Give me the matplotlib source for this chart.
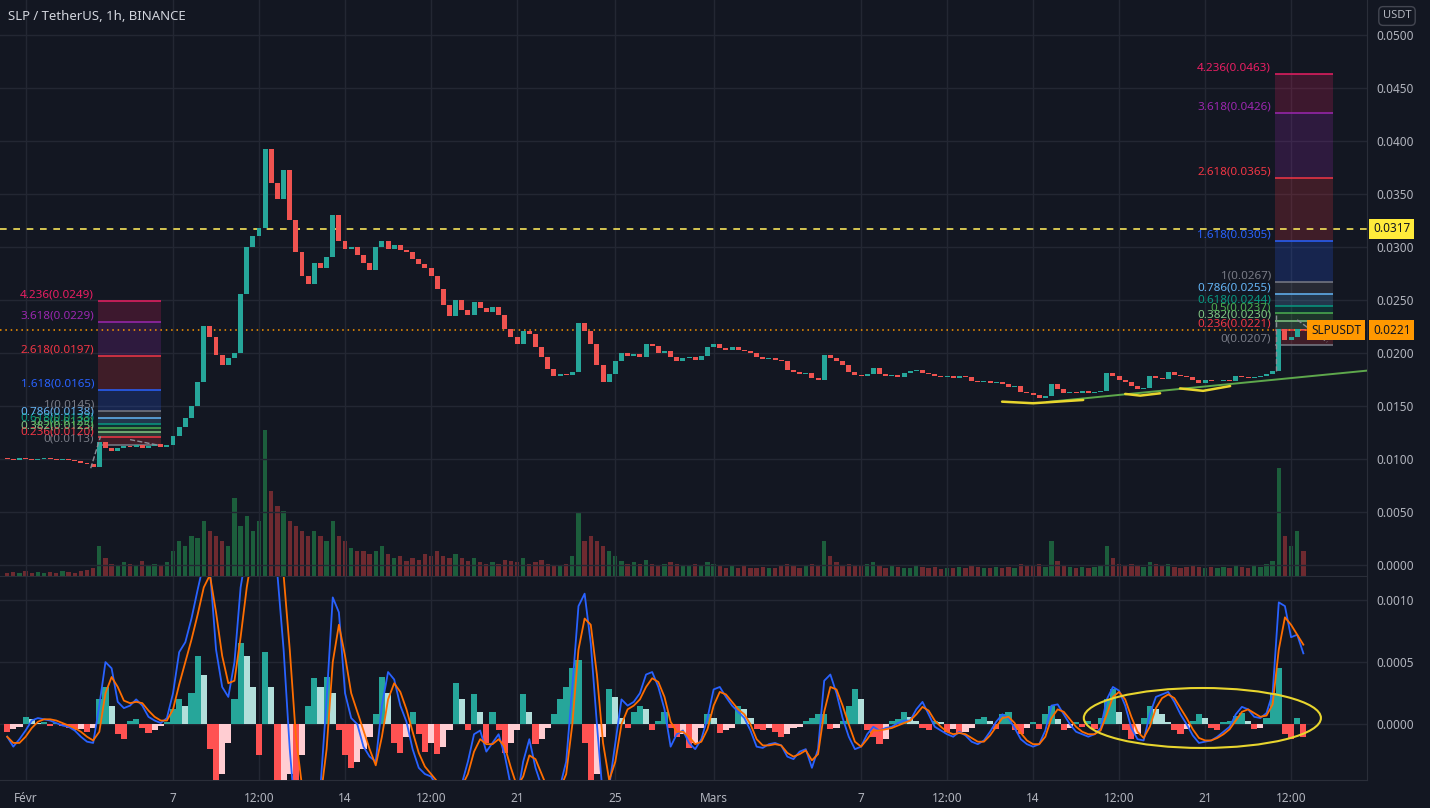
"""SLP / TetherUS 1h chart (BINANCE) with fib extensions, volume and MACD panes."""

import matplotlib

matplotlib.use("Agg")
import matplotlib.pyplot as plt
import numpy as np
from matplotlib.patches import Ellipse
from matplotlib.ticker import FormatStrFormatter

BG = "#131722"
GRID = "#232733"
AXIS_LINE = "#2a2e39"
TEXT = "#b2b5be"
UP = "#26a69a"
DOWN = "#ef5350"

# ---- data (6h buckets, x in days since Feb 1) -------------------------------
T0 = -0.75
STEP = 0.25

closes = [
    0.0100, 0.0099, 0.0101, 0.0100, 0.0099, 0.0100, 0.0101, 0.0100, 0.0099, 0.0100,
    0.0099, 0.0098, 0.0096, 0.0095, 0.0092, 0.0116, 0.0110, 0.0107, 0.0110, 0.0112,
    0.0111, 0.0113, 0.0110, 0.0112, 0.0114, 0.0111, 0.0113, 0.0121, 0.0130, 0.0138,
    0.0150, 0.0172, 0.0225, 0.0215, 0.0198, 0.0188, 0.0195, 0.0200, 0.0255, 0.0300,
    0.0310, 0.0318, 0.0392, 0.0360, 0.0345, 0.0372, 0.0325, 0.0295, 0.0272, 0.0265,
    0.0285, 0.0280, 0.0290, 0.0330, 0.0305, 0.0298, 0.0300, 0.0292, 0.0285, 0.0278,
    0.0300, 0.0305, 0.0298, 0.0302, 0.0297, 0.0295, 0.0288, 0.0284, 0.0280, 0.0272,
    0.0260, 0.0245, 0.0235, 0.0250, 0.0240, 0.0236, 0.0248, 0.0242, 0.0238, 0.0243,
    0.0236, 0.0222, 0.0215, 0.0208, 0.0220, 0.0218, 0.0205, 0.0196, 0.0185, 0.0178,
    0.0180, 0.0179, 0.0182, 0.0228, 0.0220, 0.0208, 0.0188, 0.0172, 0.0180, 0.0192,
    0.0200, 0.0197, 0.0199, 0.0196, 0.0208, 0.0206, 0.0200, 0.0202, 0.0196, 0.0192,
    0.0195, 0.0196, 0.0193, 0.0197, 0.0205, 0.0208, 0.0204, 0.0203, 0.0205, 0.0203,
    0.0202, 0.0200, 0.0196, 0.0194, 0.0195, 0.0193, 0.0192, 0.0184, 0.0182, 0.0180,
    0.0181, 0.0176, 0.0174, 0.0198, 0.0195, 0.0192, 0.0188, 0.0182, 0.0179, 0.0178,
    0.0180, 0.0186, 0.0180, 0.0178, 0.0179, 0.0177, 0.0181, 0.0183, 0.0184, 0.0181,
    0.0180, 0.0178, 0.0177, 0.0178, 0.0176, 0.0178, 0.0177, 0.0173, 0.0172, 0.0173,
    0.0171, 0.0172, 0.0170, 0.0168, 0.0169, 0.0163, 0.0162, 0.0160, 0.0157, 0.0159,
    0.0170, 0.0166, 0.0162, 0.0163, 0.0162, 0.0164, 0.0162, 0.0163, 0.0164, 0.0181,
    0.0178, 0.0174, 0.0172, 0.0169, 0.0166, 0.0167, 0.0178, 0.0176, 0.0175, 0.0182,
    0.0179, 0.0178, 0.0177, 0.0174, 0.0171, 0.0174, 0.0173, 0.0173, 0.0174, 0.0173,
    0.0178, 0.0177, 0.0176, 0.0177, 0.0178, 0.0180, 0.0183, 0.0222, 0.0212, 0.0215,
    0.0222, 0.0221,
]
first_open = 0.0101

volume = [
    3, 4, 3, 5, 3, 4, 3, 4, 3, 5,
    4, 3, 5, 6, 8, 30, 18, 12, 10, 14,
    12, 10, 15, 10, 12, 10, 14, 25, 35, 30,
    40, 38, 55, 45, 40, 35, 30, 78, 50, 60,
    45, 55, 146, 85, 70, 65, 55, 50, 45, 40,
    45, 40, 35, 55, 40, 35, 28, 25, 25, 22,
    25, 30, 22, 18, 20, 15, 18, 16, 22, 20,
    25, 20, 18, 22, 18, 15, 18, 14, 12, 14,
    12, 16, 15, 14, 18, 12, 14, 16, 12, 10,
    10, 12, 20, 63, 35, 40, 35, 30, 25, 20,
    15, 12, 14, 12, 16, 12, 10, 12, 14, 12,
    10, 10, 12, 10, 14, 12, 10, 8, 10, 8,
    10, 8, 8, 9, 8, 8, 10, 12, 10, 8,
    10, 12, 10, 35, 20, 14, 10, 12, 10, 10,
    12, 14, 10, 8, 10, 9, 8, 8, 10, 9,
    8, 9, 7, 8, 8, 9, 8, 10, 9, 8,
    8, 9, 8, 9, 8, 12, 10, 10, 12, 9,
    35, 15, 10, 9, 8, 9, 8, 9, 10, 30,
    18, 12, 10, 12, 10, 9, 14, 12, 10, 12,
    9, 8, 9, 10, 9, 8, 9, 8, 9, 8,
    10, 9, 8, 10, 9, 12, 15, 108, 40, 30,
    45, 25,
]

# MACD values in units of 1e-4
MACD_UNIT = 1e-4
macd = [
    -1.0, -1.8, -1.2, -0.5, 0.3, 0.5, 0.4, 0.3, 0.1, -0.1,
    -0.2, -0.5, -1.0, -1.4, -1.5, 1.5, 5.0, 4.5, 1.8, 1.3,
    1.5, 2.0, 1.5, 0.6, 0.3, 0.1, 0.5, 2.5, 5.8, 6.6,
    8.5, 10.8, 13.0, 12.5, 6.0, 3.0, 2.2, 5.0, 11.0, 14.0,
    16.0, 18.0, 20.0, 16.0, 12.0, 6.0, -2.0, -8.0, -10.0, -8.0,
    -6.0, -5.0, 2.0, 10.2, 9.0, 2.5, 0.5, 0.0, -1.8, -2.6,
    -3.0, 1.5, 4.2, 3.6, 1.5, 0.2, -2.0, -3.5, -4.0, -4.2,
    -5.0, -6.0, -5.5, -5.0, -4.8, -3.0, -0.8, -0.5, -2.2, -1.5,
    -0.8, -2.5, -5.0, -6.0, -3.0, -1.2, -3.5, -5.0, -6.0, -5.5,
    -5.0, -3.0, 3.0, 9.5, 10.5, 6.5, 0.0, -6.0, -5.0, -1.5,
    2.0, 1.5, 1.8, 2.5, 4.0, 4.2, 3.0, 1.2, -1.8, -0.8,
    -0.5, -1.5, -2.0, -1.2, 0.5, 2.8, 3.0, 2.2, 1.5, 1.0,
    0.5, -0.5, -1.8, -1.9, -1.6, -1.5, -1.7, -2.6, -2.8, -2.2,
    -2.0, -3.5, -2.0, 3.5, 4.0, 2.5, 0.5, -1.0, -2.0, -1.8,
    -0.8, -0.2, -0.5, -0.3, -0.2, 0.1, 0.3, 0.3, 1.2, 1.8,
    0.8, -0.2, -0.5, -0.8, -1.0, -0.6, -0.9, -1.4, -1.6, -1.3,
    -0.6, 0.2, 0.8, 0.5, -0.3, -1.2, -1.6, -1.8, -1.6, -0.5,
    1.5, 1.6, 0.8, 0.0, -0.6, -0.8, -1.0, -0.8, -0.3, 2.0,
    3.0, 2.7, 1.5, -0.3, -1.2, -1.3, 0.8, 2.2, 2.4, 2.6,
    1.8, 0.8, 0.0, -0.9, -1.5, -1.4, -1.3, -1.0, -0.6, -0.2,
    0.8, 1.4, 1.2, 0.6, 0.5, 0.9, 2.5, 9.8, 9.5, 7.0,
    7.2, 5.7,
]
signal = [
    -1.0, -1.5, -1.5, -1.0, -0.3, 0.2, 0.4, 0.4, 0.3, 0.1,
    -0.1, -0.3, -0.6, -1.0, -1.3, -0.6, 2.5, 3.8, 3.0, 1.9,
    1.7, 1.8, 1.7, 1.1, 0.6, 0.3, 0.3, 1.2, 3.2, 5.0,
    6.8, 8.8, 11.0, 12.0, 9.0, 5.5, 3.3, 3.5, 7.0, 11.0,
    14.0, 16.5, 18.5, 17.5, 16.0, 12.0, 6.0, -1.0, -5.0, -7.0,
    -7.0, -6.0, -2.0, 5.0, 8.0, 5.5, 2.5, 1.0, -0.5, -2.0,
    -3.3, -1.0, 2.0, 3.3, 2.6, 1.2, -0.6, -2.3, -3.4, -4.0,
    -4.6, -5.4, -5.5, -5.2, -5.0, -4.0, -2.2, -1.2, -1.6, -1.6,
    -1.2, -1.8, -3.5, -5.0, -4.2, -2.5, -2.8, -4.0, -5.2, -5.5,
    -5.2, -4.0, 0.0, 6.0, 8.5, 8.0, 4.0, -1.5, -4.5, -3.0,
    0.0, 1.2, 1.5, 2.0, 3.0, 3.7, 3.4, 2.2, 0.2, -0.6,
    -0.6, -1.0, -1.6, -1.4, -0.4, 1.5, 2.6, 2.4, 1.8, 1.2,
    0.8, 0.0, -1.2, -1.7, -1.7, -1.6, -1.7, -2.3, -2.6, -2.4,
    -2.1, -2.9, -2.4, 1.0, 3.0, 2.8, 1.5, 0.0, -1.4, -1.8,
    -1.2, -0.5, -0.5, -0.4, -0.3, -0.1, 0.1, 0.3, 0.8, 1.4,
    1.1, 0.3, -0.2, -0.6, -0.8, -0.7, -0.8, -1.1, -1.4, -1.4,
    -0.9, -0.2, 0.5, 0.6, 0.1, -0.7, -1.3, -1.6, -1.6, -1.0,
    0.5, 1.2, 1.0, 0.4, -0.2, -0.6, -0.8, -0.8, -0.5, 0.8,
    2.2, 2.6, 2.0, 0.6, -0.6, -1.1, -0.2, 1.3, 2.1, 2.4,
    2.1, 1.3, 0.5, -0.4, -1.1, -1.3, -1.3, -1.1, -0.8, -0.4,
    0.3, 1.0, 1.2, 0.9, 0.6, 0.7, 1.6, 6.0, 8.6, 8.0,
    7.2, 6.4,
]
hist = [
    -0.6, -0.4, -0.2, 0.6, 0.4, 0.1, 0.2, -0.1, 0.1, -0.1,
    -0.3, -0.5, -0.4, -0.6, -0.3, 2.0, 3.0, 1.5, -0.8, -1.2,
    0.3, 0.4, -0.3, -0.7, -0.5, -0.1, 0.2, 1.2, 2.0, 1.5,
    2.5, 5.5, 4.0, -2.0, -5.0, -4.0, -1.5, 2.0, 6.5, 5.5,
    3.0, -2.5, 5.8, 3.0, -6.0, -5.0, -4.0, -5.0, -2.5, 1.5,
    3.7, 3.0, 3.8, 2.5, -0.5, -2.5, -3.5, -3.0, -2.0, -1.0,
    0.8, 3.8, 2.5, -1.5, -2.3, -1.0, 1.0, -0.8, -2.2, -1.5,
    -2.4, -1.8, -0.5, 3.3, 2.0, -0.5, 2.4, 1.0, -1.5, 1.0,
    -0.5, -2.3, -1.5, -0.5, 2.4, 1.0, -1.6, -1.2, -0.3, 0.8,
    2.0, 3.0, 4.5, 5.2, -1.5, -4.5, -4.0, -1.0, 2.8, 2.2,
    0.5, -0.3, 1.0, 1.5, 1.2, -0.5, 0.3, 1.0, -0.3, -1.0,
    -0.8, -1.9, -1.5, -0.3, 0.8, 0.5, -0.7, -0.5, -0.3, 1.5,
    1.2, 0.5, -0.4, -0.5, -0.3, -0.6, -1.0, -0.8, -0.3, -0.2,
    0.3, 0.5, 0.8, 0.8, -0.4, -0.3, 0.3, 1.5, 2.8, 2.0,
    -0.5, -1.0, -1.6, -1.2, 0.3, 0.4, 1.0, 0.6, 0.3, -0.3,
    -0.5, 0.3, 0.2, -0.6, -0.4, -0.8, -0.6, -0.3, 0.4, 0.6,
    0.3, -0.4, 0.8, 1.0, -0.5, -0.8, -0.3, 0.2, -0.4, 0.8,
    1.5, 0.4, -0.5, -0.3, 0.2, -0.2, 0.3, -0.4, 0.5, 2.0,
    2.8, 1.0, -0.5, -1.2, -0.8, 0.5, 1.5, 1.2, 0.8, 0.2,
    -0.5, -0.8, -0.4, 0.3, 0.8, 0.5, -0.3, -0.5, 0.2, 0.3,
    0.7, 0.9, 0.3, -0.4, -0.3, 0.5, 2.5, 4.5, -0.8, -1.2,
    0.5, -1.0,
]

# fib extension drawings
fib_ratios = ["0", "0.236", "0.382", "0.5", "0.618", "0.786", "1", "1.618", "2.618", "3.618", "4.236"]
fib_left_prices = [0.0113, 0.0120, 0.0125, 0.0129, 0.0133, 0.0138, 0.0145, 0.0165, 0.0197, 0.0229, 0.0249]
fib_right_prices = [0.0207, 0.0221, 0.0230, 0.0237, 0.0244, 0.0255, 0.0267, 0.0305, 0.0365, 0.0426, 0.0463]
FIB_COLORS = ["#787b86", "#f23645", "#81c784", "#4caf50", "#089981", "#64b5f6",
              "#787b86", "#2962ff", "#f23645", "#9c27b0", "#e91e63"]

# horizontal levels / drawings
alert_level = 0.0317
last_price = 0.0221
trend_x = [41.57, 54.6]
trend_y = [0.01535, 0.01831]
underlines = [
    ([39.74, 41.00, 43.04], [0.01538, 0.01523, 0.01554]),
    ([44.75, 45.36, 46.17], [0.01611, 0.01595, 0.01617]),
    ([46.98, 47.92, 49.02], [0.01663, 0.01640, 0.01685]),
]

tick_days = [0, 6, 9.5, 13, 16.5, 20, 24, 28, 34, 37.5, 41, 44.5, 48, 51.5]
tick_labels = ["Févr", "7", "12:00", "14", "12:00", "21", "25", "Mars",
               "7", "12:00", "14", "12:00", "21", "12:00"]


def style_axis(ax):
    ax.set_facecolor(BG)
    for side in ("top", "left", "bottom"):
        ax.spines[side].set_visible(False)
    ax.spines["right"].set_color(AXIS_LINE)
    ax.yaxis.tick_right()
    ax.tick_params(axis="y", length=0, pad=7, labelsize=8.5, labelcolor=TEXT)
    ax.tick_params(axis="x", length=0, pad=9, labelsize=8.5, labelcolor=TEXT)
    ax.grid(True, color=GRID, lw=1)
    ax.set_axisbelow(True)


def draw_fib(ax, x0, x1, prices, label_x):
    for i, (ratio, price) in enumerate(zip(fib_ratios, prices)):
        col = FIB_COLORS[i]
        if i > 0:
            ax.fill_between([x0, x1], prices[i - 1], price, color=col, alpha=0.2, lw=0, zorder=2)
        ax.hlines(price, x0, x1, color=col, lw=1.1, zorder=3)
        ax.text(label_x, price + 0.00004, f"{ratio}({price:.4f})", ha="right", va="bottom",
                fontsize=8.4, color=col, zorder=6)


def main():
    plt.rcParams["font.family"] = ["Noto Sans", "DejaVu Sans"]

    n = len(closes)
    x = T0 + STEP * np.arange(n)
    c = np.array(closes)
    o = np.array([first_open] + closes[:-1])
    up = c >= o

    fig = plt.figure(figsize=(14.3, 8.08), dpi=100, facecolor=BG)
    price_rect = [0, 1 - 576 / 808, 1367 / 1430, 576 / 808]
    ax_vol = fig.add_axes(price_rect)
    ax = fig.add_axes(price_rect, sharex=ax_vol)
    ax_macd = fig.add_axes([0, 1 - 780 / 808, 1367 / 1430, (780 - 577) / 808], sharex=ax_vol)

    # volume (hidden scale)
    ax_vol.set_facecolor(BG)
    ax_vol.bar(x, volume, width=STEP * 0.7, color=np.where(up, "#1c5e3c", "#6e2a30"), lw=0)
    ax_vol.set_ylim(0, max(volume) * 3.95)
    ax_vol.axis("off")

    # price pane
    style_axis(ax)
    ax.patch.set_alpha(0)
    ax.spines["bottom"].set_visible(True)
    ax.spines["bottom"].set_color(AXIS_LINE)
    body = np.maximum(np.abs(c - o), 0.00006)
    ax.bar(x, body, bottom=np.minimum(o, c), width=STEP * 0.8,
           color=np.where(up, UP, DOWN), lw=0, zorder=5)
    ax.set_ylim(-0.001066, 0.05327)
    ax.set_yticks(np.arange(0, 0.05001, 0.005))
    ax.yaxis.set_major_formatter(FormatStrFormatter("%.4f"))
    ax.tick_params(labelbottom=False)

    draw_fib(ax, 2.947, 5.511, fib_left_prices, 2.784)
    draw_fib(ax, 50.85, 53.21, fib_right_prices, 50.68)
    # fib trend lines
    ax.plot([2.65, 3.05], [0.0091, 0.0121], ls="--", color="#8a8d96", lw=1, zorder=6)
    ax.plot([4.25, 5.35], [0.0118, 0.0113], ls="--", color="#8a8d96", lw=1, zorder=6)
    ax.plot([50.89, 50.89], [0.0183, 0.0236], ls="--", color="#8a8d96", lw=1, zorder=6)
    ax.plot([51.75, 52.97], [0.0231, 0.0210], ls="--", color="#8a8d96", lw=1, zorder=6)

    ax.axhline(alert_level, color="#f5e35a", ls=(0, (4, 4)), lw=1.2, zorder=4)
    ax.axhline(last_price, color="#ff9800", ls=(0, (1, 2.5)), lw=1.1, zorder=4)
    ax.plot(trend_x, trend_y, color="#5ea84c", lw=1.4, zorder=6)
    for ux, uy in underlines:
        ax.plot(ux, uy, color="#e8d52e", lw=1.8, zorder=6, solid_capstyle="round")

    ytr = ax.get_yaxis_transform()
    ax.text(1.0 + 6 / 1367, alert_level, "0.0317", transform=ytr, ha="left", va="center",
            fontsize=8.5, color="#131722", clip_on=False, zorder=10,
            bbox=dict(boxstyle="square,pad=0.3", fc="#ffeb3b", ec="none"))
    ax.text(1.0 + 6 / 1367, last_price, "0.0221", transform=ytr, ha="left", va="center",
            fontsize=8.5, color="#131722", clip_on=False, zorder=10,
            bbox=dict(boxstyle="square,pad=0.3", fc="#ff9800", ec="none"))
    ax.text(1336 / 1367, last_price, "SLPUSDT", transform=ytr, ha="center", va="center",
            fontsize=8.5, color="#131722", zorder=10,
            bbox=dict(boxstyle="square,pad=0.3", fc="#ff9800", ec="none"))

    # MACD pane
    style_axis(ax_macd)
    ax_macd.spines["bottom"].set_visible(True)
    ax_macd.spines["bottom"].set_color(AXIS_LINE)
    h = np.array(hist) * MACD_UNIT
    prev = np.concatenate([[0.0], h[:-1]])
    hcol = np.where(h >= 0, np.where(h >= prev, "#26a69a", "#b2dfdb"),
                    np.where(h >= prev, "#ffcdd2", "#ff5252"))
    ax_macd.bar(x, h, width=STEP, color=hcol, lw=0, zorder=3)
    ax_macd.plot(x, np.array(macd) * MACD_UNIT, color="#2962ff", lw=1.3, zorder=4)
    ax_macd.plot(x, np.array(signal) * MACD_UNIT, color="#ff6d00", lw=1.3, zorder=5)
    ax_macd.add_patch(Ellipse((47.89, 0.0000506), 9.65, 0.000482, fill=False,
                              ec="#e8d52e", lw=1.5, zorder=6))
    ax_macd.set_ylim(-0.000448, 0.001184)
    ax_macd.set_yticks([0.0, 0.0005, 0.0010])
    ax_macd.yaxis.set_major_formatter(FormatStrFormatter("%.4f"))

    ax_macd.set_xticks(tick_days)
    ax_macd.set_xticklabels(tick_labels)
    ax_macd.set_xlim(-1.042, 54.59)

    fig.text(8 / 1430, 1 - 16.5 / 808, "SLP / TetherUS, 1h, BINANCE", ha="left", va="center",
             fontsize=9.5, color="#d1d4dc")
    fig.text(1397 / 1430, 1 - 16 / 808, "USDT", ha="center", va="center", fontsize=8,
             color=TEXT, bbox=dict(boxstyle="round,pad=0.35,rounding_size=0.4", fc="none", ec="#434651"))

    fig.savefig("out.png", dpi=100, facecolor=BG)
    plt.close(fig)


if __name__ == "__main__":
    main()
